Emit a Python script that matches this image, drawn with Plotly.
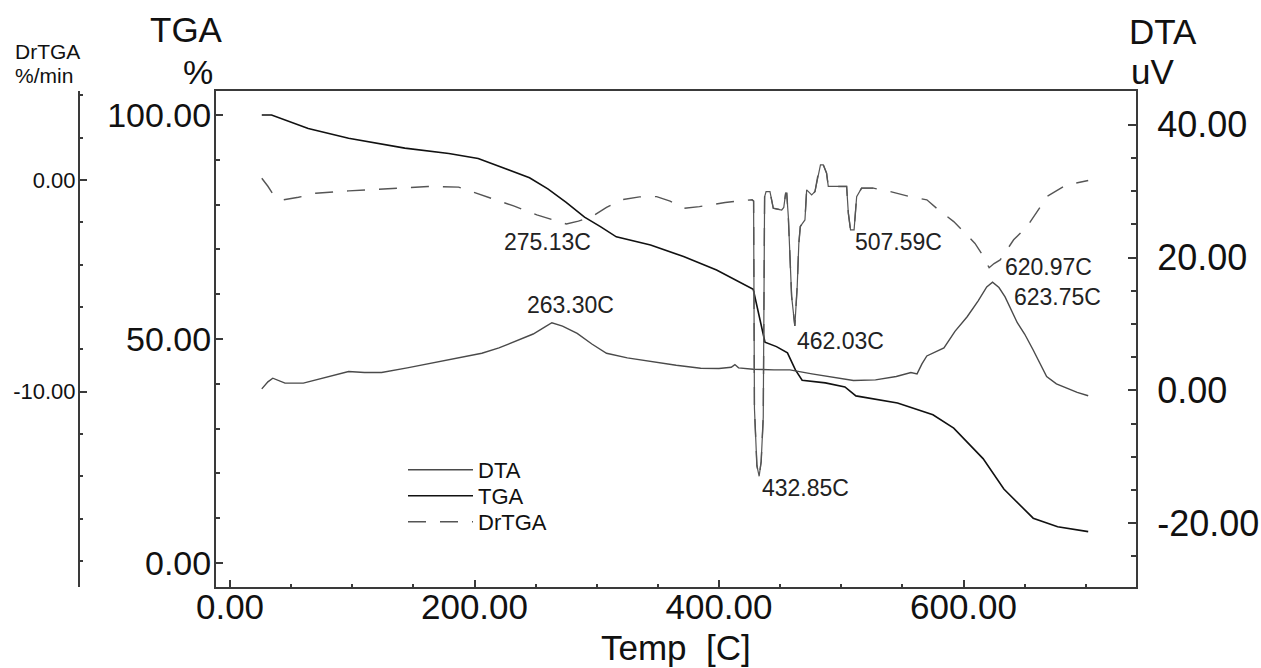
import plotly.graph_objects as go

# ---------------- data ----------------
tga_temp = [26, 34, 64, 97, 143, 179, 203, 232, 245, 260, 275, 290, 303, 316, 344, 371, 398,
            428, 437.6, 447, 456, 462.5, 468, 487, 503, 512, 546, 575, 592, 616, 633, 657, 677, 702]
tga_val = [100.0, 100.0, 97.0, 94.8, 92.6, 91.4, 90.3, 87.3, 86.0, 83.5, 80.5, 77.2, 75.1, 72.8,
           71.0, 68.4, 65.4, 61.1, 49.3, 48.3, 46.9, 43.1, 40.8, 40.2, 39.3, 37.3, 35.7, 33.1,
           30.1, 23.3, 16.5, 10.0, 8.1, 7.0]

dta_temp = [26, 31, 35, 40, 45, 60, 80, 97, 110, 124, 145, 165, 185, 206, 220, 233, 248, 258,
            263.3, 272, 284, 296, 308, 325, 344, 365, 385, 400, 410, 413, 416, 428, 445, 458,
            476, 495, 510, 528, 545, 557, 562, 566, 570, 584, 593, 603, 612, 619, 623.75, 629,
            634, 644, 650, 657, 663, 668, 676, 684, 693, 702]
dta_val = [0.24, 1.3, 1.85, 1.5, 1.1, 1.1, 2.0, 2.85, 2.7, 2.7, 3.4, 4.1, 4.8, 5.6, 6.4, 7.4,
           8.5, 9.6, 10.2, 9.7, 8.6, 7.0, 5.6, 4.9, 4.35, 3.8, 3.35, 3.3, 3.5, 3.9, 3.4, 3.2,
           3.1, 3.1, 2.5, 1.9, 1.5, 1.6, 2.1, 2.7, 2.5, 4.0, 5.2, 6.4, 8.9, 11.1, 13.5, 15.6,
           16.3, 15.5, 14.1, 10.2, 8.5, 6.1, 3.9, 2.1, 1.0, 0.35, -0.3, -0.8]

drtga_temp = [26, 31, 36, 44, 56, 70, 97, 113, 130, 162, 187, 203, 217, 226, 232, 251, 265,
              275.13, 285, 296, 308, 320, 335, 349, 360, 371, 384, 395, 405, 415, 427,
              428.3, 429.0, 431, 432.85, 434.5, 436.2, 437.3, 438.5, 441.7, 444.4, 451.3, 453,
              454.5, 455.4, 456.7, 459.4, 462.03, 464.0, 465.3, 466.5, 470.3, 471.7, 475.8,
              478.5, 481.2, 483, 485.3, 488, 489.4, 504.4, 505.8, 507.59, 510.5, 512.6, 516.6,
              526.2, 540, 556, 570, 578, 592, 600, 609.4, 615, 620.97, 625, 630, 641, 652,
              663, 668, 684, 702]
drtga_val = [0.08, -0.3, -0.75, -0.94, -0.82, -0.63, -0.52, -0.47, -0.42, -0.31, -0.34, -0.66,
             -0.91, -1.1, -1.23, -1.65, -1.9, -2.08, -1.95, -1.73, -1.3, -0.94, -0.8, -0.79,
             -1.0, -1.34, -1.26, -1.15, -1.07, -1.0, -0.94,
             -1.0, -10.8, -13.5, -14.0, -13.3, -11.2, -0.8, -0.55, -0.55, -1.34, -1.42, -1.3,
             -0.63, -0.63, -1.73, -5.5, -6.9, -5.0, -3.0, -2.2, -1.89, -0.47, -0.71, -0.55,
             0.32, 0.71, 0.71, 0.32, -0.31, -0.31, -1.57, -2.36, -2.36, -0.79, -0.39, -0.39,
             -0.55, -0.79, -0.94, -1.34, -1.97, -2.44, -3.0, -3.5, -4.15, -3.95, -3.78, -2.83,
             -2.2, -1.26, -0.79, -0.24, -0.03]

# tick values / labels
x_ticks = [0, 200, 400, 600]
tga_ticks = [0, 50, 100]
dta_ticks = [-20, 0, 20, 40]
drtga_ticks = [-10, 0]

# peak labels: (text, temp, value, axis)
peak_labels = [
    ("275.13C", 222.5, -2.93, "y3"),
    ("263.30C", 241.3, 12.9, "y2"),
    ("462.03C", 462.2, -7.6, "y3"),
    ("507.59C", 509.6, -2.93, "y3"),
    ("620.97C", 632.3, -4.11, "y3"),
    ("623.75C", 639.7, 14.1, "y2"),
    ("432.85C", 433.5, -14.55, "y3"),
]

FONT = "Liberation Sans"
AX = "#3a3a3a"

def fmt(v):
    return "%.2f" % v  # plain hyphen for negatives, as in the instrument plot

fig = go.Figure()
fig.add_trace(go.Scatter(x=dta_temp, y=dta_val, name="DTA", mode="lines", yaxis="y2",
                         legend="legend", line=dict(color="#4a4a4a", width=1.4)))
fig.add_trace(go.Scatter(x=tga_temp, y=tga_val, name="TGA", mode="lines", yaxis="y",
                         legend="legend2", line=dict(color="#111111", width=1.6)))
fig.add_trace(go.Scatter(x=drtga_temp, y=drtga_val, name="DrTGA", mode="lines", yaxis="y3",
                         legend="legend3",
                         line=dict(color="#555555", width=1.4, dash="18px,14px")))
# the steep segment of DrTGA is drawn continuous as in the instrument plot
seg = [(t, v) for t, v in zip(drtga_temp, drtga_val) if 427 <= t <= 526.2]
fig.add_trace(go.Scatter(x=[p[0] for p in seg], y=[p[1] for p in seg], mode="lines",
                         yaxis="y3", showlegend=False, hoverinfo="skip",
                         line=dict(color="#555555", width=1.2)))

L, R, T, B = 79, 125, 91, 81
W, H = 1261, 668
pw = W - L - R
ph = H - T - B
x0_dom = (216 - L) / pw

def px(xp):
    return (xp - L) / pw

def py(yp):
    return (H - B - yp) / ph

annotations = []
for text, tx, ty, ax in peak_labels:
    annotations.append(dict(text=text, x=tx, y=ty, xref="x", yref=ax, showarrow=False,
                            xanchor="left", yanchor="middle",
                            font=dict(family=FONT, size=23, color="#222")))

def title(text, xp, yp, size, anchor="center"):
    annotations.append(dict(text=text, x=px(xp), y=py(yp), xref="paper", yref="paper",
                            showarrow=False, xanchor=anchor, yanchor="middle",
                            font=dict(family=FONT, size=size, color="#111")))

title("TGA", 186.7, 30, 35)
title("%", 197.5, 72, 34)
title("DrTGA", 13, 51, 21, "left")
title("%/min", 13, 76, 21, "left")
title("DTA", 1163, 31, 35)
title("uV", 1152.5, 71, 35)
title("Temp\u00a0\u00a0[C]", 676, 647, 35)

common = dict(showgrid=False, zeroline=False, showline=True, linecolor=AX, linewidth=2,
              ticks="inside", tickcolor=AX, tickwidth=1.5, tickmode="array")

def legend_box(yp):
    return dict(x=px(403), y=py(yp), xanchor="left", yanchor="middle",
                bgcolor="rgba(0,0,0,0)", borderwidth=0, itemwidth=65,
                font=dict(family=FONT, size=22, color="#111"))

fig.update_layout(
    width=W, height=H,
    margin=dict(l=L, r=R, t=T, b=B, autoexpand=False),
    paper_bgcolor="white", plot_bgcolor="white",
    font=dict(family=FONT, color="#111"),
    showlegend=True,
    legend=legend_box(470),
    legend2=legend_box(496),
    legend3=legend_box(522),
    xaxis=dict(domain=[x0_dom, 1], range=[-11.45, 741.1], ticklen=7, mirror=True,
               tickvals=x_ticks, ticktext=[fmt(v) for v in x_ticks], ticklabelstandoff=-12,
               minor=dict(tickmode="linear", tick0=0, dtick=50, ticks="inside", ticklen=3,
                          tickcolor=AX),
               tickfont=dict(family=FONT, size=35, color="#111"), **common),
    yaxis=dict(range=[-5.36, 105.36], ticklen=7, anchor="x", side="left",
               tickvals=tga_ticks, ticktext=[fmt(v) for v in tga_ticks], ticklabelstandoff=-4,
               minor=dict(tickmode="linear", tick0=0, dtick=10, ticks="inside", ticklen=4,
                          tickcolor=AX),
               tickfont=dict(family=FONT, size=34, color="#111"), **common),
    yaxis2=dict(range=[-29.6, 45.1], ticklen=8, overlaying="y", side="right", anchor="x",
                tickvals=dta_ticks, ticktext=[fmt(v) for v in dta_ticks], ticklabelstandoff=12,
                minor=dict(tickmode="linear", tick0=0, dtick=5, ticks="inside", ticklen=5,
                           tickcolor=AX),
                tickfont=dict(family=FONT, size=36, color="#111"), **common),
    yaxis3=dict(range=[-19.23, 4.2], ticklen=7, overlaying="y", side="left",
                anchor="free", position=0,
                tickvals=drtga_ticks, ticktext=[fmt(v) for v in drtga_ticks],
                ticklabelstandoff=-2,
                minor=dict(tickmode="linear", tick0=0, dtick=2, ticks="inside", ticklen=3,
                           tickcolor=AX),
                tickfont=dict(family=FONT, size=22, color="#111"), **common),
    annotations=annotations,
)

fig.write_html("out.html")
